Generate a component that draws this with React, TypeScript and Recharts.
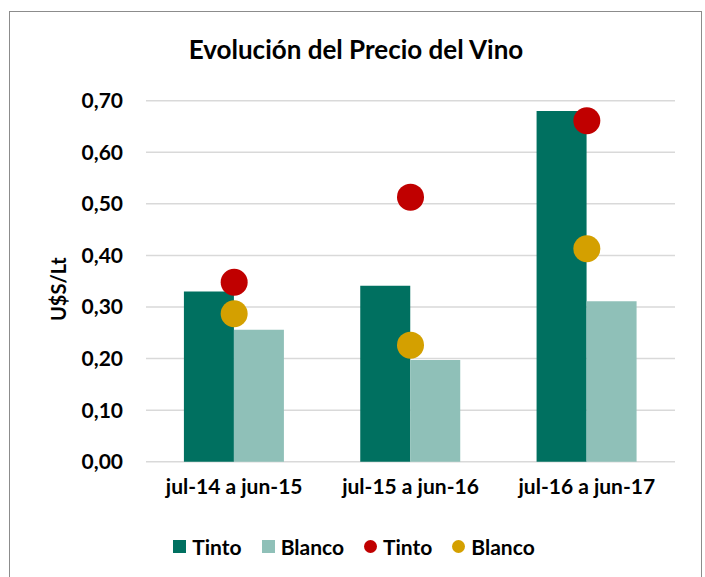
import React from 'react';
import { ComposedChart, Bar, Line, XAxis, YAxis, CartesianGrid, Legend } from 'recharts';

const categories = ['jul-14 a jun-15', 'jul-15 a jun-16', 'jul-16 a jun-17'];
const tintoBar = [0.33, 0.341, 0.68];
const blancoBar = [0.256, 0.197, 0.311];
const tintoPunto = [0.348, 0.513, 0.661];
const blancoPunto = [0.287, 0.226, 0.413];
const yTicks = [0, 0.1, 0.2, 0.3, 0.4, 0.5, 0.6, 0.7];
const boundaryTicks = [0, 1, 2, 3];

const data = categories.map((c, i) => ({
  cat: c,
  tintoBar: tintoBar[i],
  blancoBar: blancoBar[i],
  tintoPunto: tintoPunto[i],
  blancoPunto: blancoPunto[i],
}));

const FONT = 'Lato, "Open Sans", sans-serif';
const C_TINTO = '#007060';
const C_BLANCO = '#8fc0b8';
const C_RED = '#c00000';
const C_GOLD = '#d4a000';
const GRID = '#d9d9d9';

const legendItems = [
  { label: 'Tinto', color: C_TINTO, shape: 'square' },
  { label: 'Blanco', color: C_BLANCO, shape: 'square' },
  { label: 'Tinto', color: C_RED, shape: 'circle' },
  { label: 'Blanco', color: C_GOLD, shape: 'circle' },
];

const LegendContent = () => (
  <div style={{ display: 'flex', justifyContent: 'center', alignItems: 'center', height: 30, fontFamily: FONT, fontWeight: 700, fontSize: 21, color: '#000', paddingLeft: 33 }}>
    {legendItems.map((it, i) => (
      <div key={i} style={{ display: 'flex', alignItems: 'center', marginLeft: i === 0 ? 0 : 20 }}>
        <span style={{ display: 'inline-block', width: 13, height: 13, background: it.color, borderRadius: it.shape === 'circle' ? '50%' : 0, marginRight: 6 }} />
        <span>{it.label}</span>
      </div>
    ))}
  </div>
);

const YLabel = (props: any) => {
  const vb = props.viewBox || {};
  const x = 58;
  const y = vb.y + vb.height / 2 + 8;
  return (
    <text x={x} y={y} transform={`rotate(-90 ${x} ${y})`} textAnchor="middle" dominantBaseline="central" fontFamily={FONT} fontWeight={700} fontSize={20} fill="#000">
      U$S/Lt
    </text>
  );
};

export default function App() {
  return (
    <div style={{ position: 'fixed', left: 0, top: 0, width: 705, height: 577, background: '#fff', overflow: 'hidden' }}>
      <div style={{ position: 'absolute', left: 9, top: 11, width: 693, height: 620, border: '1.5px solid #8c8c8c', boxSizing: 'border-box' }} />
      <div style={{ position: 'absolute', left: 0, width: 712, top: 34, lineHeight: 1.2, textAlign: 'center', fontFamily: FONT, fontWeight: 700, fontSize: 26, color: '#000' }}>
        Evolución del Precio del Vino
      </div>
      <div style={{ position: 'absolute', left: 0, top: 0 }}>
        <ComposedChart width={705} height={577} data={data} margin={{ top: 100.7, right: 30, bottom: 16, left: 0 }} barCategoryGap="21.5%" barGap={0}>
          <CartesianGrid vertical={false} stroke={GRID} strokeWidth={1.5} />
          <XAxis xAxisId="b" type="number" domain={[0, 3]} ticks={boundaryTicks} height={0} tick={false} tickSize={7} tickLine={{ stroke: GRID, strokeWidth: 1.5 }} axisLine={{ stroke: GRID, strokeWidth: 1.5 }} />
          <XAxis dataKey="cat" height={69.3} axisLine={false} tickLine={false} tickSize={0} tickMargin={17} tick={{ fontFamily: FONT, fontWeight: 700, fontSize: 21, fill: '#000' }} />
          <YAxis width={146} domain={[0, 0.7]} ticks={yTicks} axisLine={false} tickLine={false} tickSize={0} tickMargin={23} tickFormatter={(v: number) => v.toFixed(2).replace('.', ',')} tick={{ fontFamily: FONT, fontWeight: 700, fontSize: 21, fill: '#000' }} label={<YLabel />} />
          <Legend verticalAlign="bottom" height={30} content={<LegendContent />} />
          <Bar dataKey="tintoBar" name="Tinto" fill={C_TINTO} isAnimationActive={false} />
          <Bar dataKey="blancoBar" name="Blanco" fill={C_BLANCO} isAnimationActive={false} />
          <Line dataKey="tintoPunto" name="Tinto" stroke="none" dot={{ r: 13.5, fill: C_RED, stroke: 'none' }} activeDot={false} isAnimationActive={false} />
          <Line dataKey="blancoPunto" name="Blanco" stroke="none" dot={{ r: 13.5, fill: C_GOLD, stroke: 'none' }} activeDot={false} isAnimationActive={false} />
        </ComposedChart>
      </div>
    </div>
  );
}
